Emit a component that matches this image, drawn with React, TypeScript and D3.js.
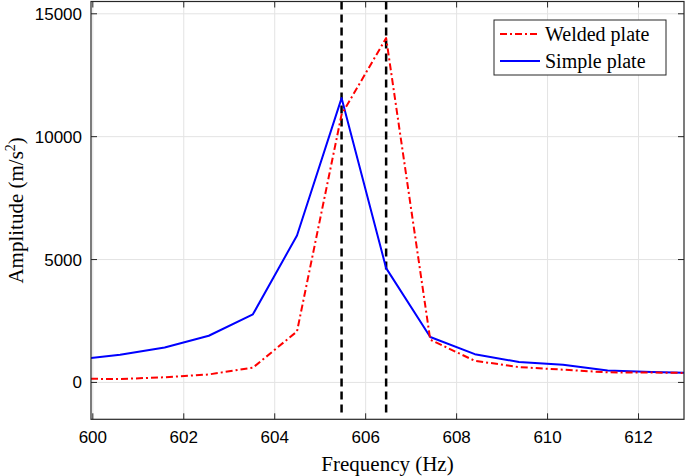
import React from "react";
import * as d3 from "d3";

const freq = [599.63, 600.6, 601.58, 602.55, 603.52, 604.49, 605.47, 606.45, 607.42, 608.4, 609.37, 610.34, 611.32, 612.29, 613.26];
const welded = [150, 140, 210, 325, 600, 2075, 10900, 14010, 1740, 880, 625, 520, 410, 405, 380];
const simple = [920, 1130, 1420, 1900, 2770, 5980, 11570, 4650, 1850, 1150, 830, 720, 490, 420, 380];
const markers = [605.47, 606.45];
const xTicks = [600, 602, 604, 606, 608, 610, 612];
const yTicks = [0, 5000, 10000, 15000];
const legendLabels = ["Welded plate", "Simple plate"];

const W = 685, H = 476;
const L = 91, R = 684, T = 1.5, B = 419.3;

export default function App() {
  const x = d3.scaleLinear().domain([599.96, 613]).range([L, R]);
  const y = d3.scaleLinear().domain([-1500, 15500]).range([B, T]);
  const line = d3.line<number>().x((_, i) => x(freq[i])).y((d) => y(d));
  const tickColor = "#262626";
  const serif = "'Liberation Serif', 'Times New Roman', serif";
  const sans = "'Liberation Sans', Arial, sans-serif";
  return (
    <svg width={W} height={H} style={{ position: "absolute", left: 0, top: 0, background: "#fff" }}>
      <defs>
        <clipPath id="plot">
          <rect x={L} y={T} width={R - L} height={B - T} />
        </clipPath>
      </defs>
      <rect x={0} y={0} width={W} height={H} fill="#fff" />
      {/* grid */}
      {xTicks.map((t) => (
        <line key={"gx" + t} x1={x(t)} x2={x(t)} y1={T} y2={B} stroke="#e3e3e3" strokeWidth={1} />
      ))}
      {yTicks.map((t) => (
        <line key={"gy" + t} x1={L} x2={R} y1={y(t)} y2={y(t)} stroke="#e3e3e3" strokeWidth={1} />
      ))}
      <g clipPath="url(#plot)">
        {markers.map((m) => (
          <line key={"m" + m} x1={x(m)} x2={x(m)} y1={y(15500)} y2={y(-1250)} stroke="#000" strokeWidth={2.5} strokeDasharray="8,5" />
        ))}
        <path d={line(simple) || ""} fill="none" stroke="#0000ff" strokeWidth={2} strokeLinejoin="round" />
        <path d={line(welded) || ""} fill="none" stroke="#ff0000" strokeWidth={2} strokeDasharray="7,3,2,3" strokeLinejoin="round" />
      </g>
      {/* ticks */}
      {xTicks.map((t) => (
        <g key={"tx" + t}>
          <line x1={x(t)} x2={x(t)} y1={B} y2={B - 6} stroke={tickColor} strokeWidth={1} />
          <line x1={x(t)} x2={x(t)} y1={T} y2={T + 6} stroke={tickColor} strokeWidth={1} />
          <text x={x(t)} y={443} textAnchor="middle" fontFamily={sans} fontSize={17} fill="#000">{t}</text>
        </g>
      ))}
      {yTicks.map((t) => (
        <g key={"ty" + t}>
          <line x1={L} x2={L + 6} y1={y(t)} y2={y(t)} stroke={tickColor} strokeWidth={1} />
          <line x1={R} x2={R - 6} y1={y(t)} y2={y(t)} stroke={tickColor} strokeWidth={1} />
          <text x={82} y={y(t) + 6} textAnchor="end" fontFamily={sans} fontSize={17} fill="#000">{t}</text>
        </g>
      ))}
      <rect x={L} y={T} width={R - L} height={B - T} fill="none" stroke={tickColor} strokeWidth={1.2} />
      {/* axis labels */}
      <text x={(L + R) / 2} y={471} textAnchor="middle" fontFamily={serif} fontSize={21} fill="#000">Frequency (Hz)</text>
      <text transform={`translate(23, ${(T + B) / 2}) rotate(-90)`} textAnchor="middle" fontFamily={serif} fontSize={21} fill="#000">
        Amplitude (m/s<tspan dy={-8} fontSize={14}>2</tspan><tspan dy={8}>)</tspan>
      </text>
      {/* legend */}
      <rect x={494} y={20} width={172} height={55} fill="#fff" stroke="#262626" strokeWidth={1} />
      <line x1={500} x2={540} y1={34} y2={34} stroke="#ff0000" strokeWidth={2} strokeDasharray="7,3,2,3" />
      <line x1={500} x2={540} y1={61} y2={61} stroke="#0000ff" strokeWidth={2} />
      <text x={545} y={41} fontFamily={serif} fontSize={20} fill="#000">{legendLabels[0]}</text>
      <text x={545} y={68} fontFamily={serif} fontSize={20} fill="#000">{legendLabels[1]}</text>
    </svg>
  );
}
